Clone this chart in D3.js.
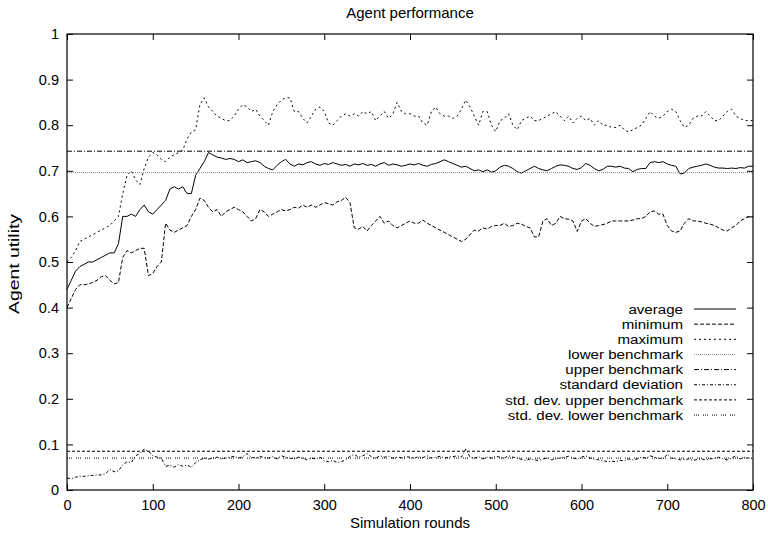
<!DOCTYPE html>
<html><head><meta charset="utf-8">
<script src="https://cdn.jsdelivr.net/npm/d3@7"></script>
<style>body{margin:0;background:#fff}svg text{font-family:"Liberation Sans",Arial,Helvetica,sans-serif;fill:#000}</style>
</head><body><svg id="c" width="768" height="536"></svg>
<script>
const roundStep = 5;
const rounds = d3.range(0, 801, roundStep);
const xTicks = [0,100,200,300,400,500,600,700,800];
const yTicks = [0,0.1,0.2,0.3,0.4,0.5,0.6,0.7,0.8,0.9,1];
const average = [
0.44,0.46,0.48,0.49,0.495,0.50,0.50,0.505,0.51,0.515,
0.52,0.52,0.54,0.60,0.60,0.605,0.60,0.615,0.625,0.61,
0.605,0.615,0.625,0.635,0.66,0.665,0.66,0.665,0.65,0.65,
0.69,0.705,0.72,0.74,0.735,0.73,0.728,0.725,0.727,0.725,
0.72,0.724,0.718,0.72,0.722,0.718,0.71,0.705,0.702,0.712,
0.72,0.725,0.715,0.71,0.715,0.713,0.718,0.72,0.715,0.712,
0.716,0.714,0.718,0.715,0.712,0.714,0.71,0.715,0.713,0.716,
0.712,0.714,0.71,0.715,0.718,0.712,0.715,0.713,0.71,0.712,
0.715,0.713,0.716,0.712,0.71,0.714,0.716,0.72,0.724,0.72,
0.716,0.712,0.708,0.71,0.705,0.70,0.702,0.698,0.702,0.697,
0.70,0.708,0.712,0.71,0.705,0.698,0.695,0.70,0.705,0.71,
0.705,0.702,0.70,0.705,0.71,0.713,0.712,0.71,0.705,0.703,
0.707,0.716,0.712,0.705,0.70,0.703,0.71,0.71,0.708,0.71,
0.706,0.705,0.698,0.703,0.705,0.705,0.718,0.72,0.718,0.72,
0.715,0.712,0.71,0.693,0.695,0.705,0.708,0.71,0.712,0.715,
0.712,0.708,0.706,0.706,0.705,0.706,0.705,0.707,0.706,0.71,
0.71];
const minimum = [
0.40,0.42,0.44,0.45,0.45,0.452,0.455,0.46,0.468,0.47,
0.46,0.452,0.455,0.51,0.525,0.52,0.525,0.53,0.53,0.47,
0.475,0.49,0.50,0.585,0.57,0.565,0.57,0.575,0.58,0.60,
0.615,0.64,0.635,0.62,0.61,0.615,0.60,0.61,0.615,0.62,
0.615,0.61,0.60,0.59,0.595,0.615,0.61,0.60,0.605,0.61,
0.615,0.612,0.615,0.62,0.618,0.625,0.62,0.625,0.62,0.625,
0.63,0.628,0.625,0.632,0.635,0.642,0.63,0.575,0.572,0.578,
0.568,0.58,0.59,0.60,0.585,0.59,0.58,0.575,0.58,0.585,
0.59,0.585,0.585,0.592,0.585,0.58,0.575,0.57,0.565,0.56,
0.555,0.55,0.545,0.55,0.56,0.57,0.568,0.575,0.572,0.578,
0.58,0.58,0.585,0.578,0.58,0.585,0.583,0.578,0.575,0.555,
0.555,0.59,0.595,0.58,0.585,0.60,0.595,0.594,0.59,0.567,
0.59,0.595,0.585,0.578,0.58,0.582,0.585,0.59,0.59,0.59,
0.59,0.59,0.592,0.595,0.595,0.60,0.61,0.612,0.605,0.605,
0.58,0.568,0.565,0.568,0.585,0.595,0.59,0.59,0.588,0.585,
0.583,0.58,0.575,0.57,0.568,0.575,0.58,0.59,0.595,0.60,
0.60];
const maximum = [
0.50,0.51,0.525,0.545,0.55,0.555,0.56,0.565,0.57,0.575,
0.58,0.59,0.60,0.65,0.69,0.70,0.68,0.67,0.705,0.73,
0.74,0.735,0.725,0.72,0.73,0.735,0.74,0.745,0.77,0.785,
0.79,0.845,0.86,0.84,0.83,0.82,0.815,0.81,0.81,0.82,
0.835,0.845,0.84,0.83,0.835,0.82,0.81,0.80,0.83,0.845,
0.855,0.86,0.86,0.83,0.83,0.815,0.805,0.82,0.835,0.84,
0.83,0.805,0.80,0.81,0.82,0.825,0.82,0.825,0.82,0.83,
0.825,0.83,0.81,0.82,0.83,0.815,0.825,0.85,0.83,0.825,
0.825,0.82,0.82,0.805,0.80,0.83,0.84,0.825,0.82,0.82,
0.815,0.82,0.835,0.855,0.84,0.82,0.80,0.83,0.83,0.80,
0.786,0.81,0.815,0.825,0.80,0.79,0.81,0.815,0.82,0.81,
0.81,0.815,0.82,0.825,0.83,0.82,0.81,0.82,0.805,0.815,
0.82,0.81,0.815,0.80,0.81,0.80,0.80,0.795,0.795,0.80,
0.79,0.785,0.79,0.795,0.80,0.815,0.83,0.82,0.815,0.82,
0.83,0.835,0.83,0.81,0.795,0.80,0.815,0.82,0.82,0.83,
0.82,0.81,0.81,0.82,0.83,0.835,0.82,0.815,0.81,0.81,
0.81];
const stdDev = [
0.026,0.025,0.028,0.03,0.03,0.031,0.032,0.033,0.033,0.036,
0.045,0.04,0.042,0.055,0.062,0.06,0.075,0.08,0.09,0.085,
0.075,0.072,0.07,0.052,0.054,0.05,0.056,0.052,0.055,0.05,
0.06,0.066,0.07,0.068,0.07,0.072,0.068,0.07,0.072,0.074,
0.07,0.073,0.08,0.072,0.07,0.074,0.071,0.07,0.073,0.068,
0.075,0.072,0.07,0.068,0.072,0.07,0.066,0.07,0.068,0.072,
0.064,0.062,0.065,0.06,0.062,0.066,0.074,0.078,0.072,0.075,
0.08,0.073,0.07,0.075,0.072,0.074,0.07,0.072,0.071,0.073,
0.072,0.07,0.073,0.071,0.075,0.07,0.072,0.074,0.07,0.072,
0.073,0.075,0.072,0.09,0.072,0.07,0.073,0.068,0.072,0.07,
0.074,0.072,0.07,0.075,0.072,0.07,0.067,0.065,0.068,0.066,
0.065,0.068,0.07,0.066,0.068,0.07,0.072,0.074,0.07,0.068,
0.072,0.075,0.07,0.068,0.066,0.065,0.062,0.063,0.062,0.065,
0.064,0.068,0.066,0.068,0.072,0.07,0.075,0.072,0.07,0.068,
0.078,0.07,0.068,0.066,0.067,0.068,0.065,0.067,0.068,0.066,
0.068,0.07,0.072,0.068,0.066,0.07,0.075,0.068,0.072,0.07,
0.068];
const lowerBenchmark = 0.696;
const upperBenchmark = 0.743;
const stdUpperBenchmark = 0.085;
const stdLowerBenchmark = 0.07;
const legendLabels = ["average","minimum","maximum","lower benchmark","upper benchmark","standard deviation","std. dev. upper benchmark","std. dev. lower benchmark"];

const L=67,R=753,T=34,B=490;
const svg=d3.select("#c");
const x=d3.scaleLinear().domain([0,800]).range([L,R]);
const y=d3.scaleLinear().domain([0,1]).range([B,T]);

const styles=[
 {dash:null,color:"#000"},
 {dash:"4,2",color:"#000"},
 {dash:"2,3",color:"#000"},
 {dash:"1,1",color:"#888"},
 {dash:"5,2,1,2",color:"#000"},
 {dash:"3,2,1,2",color:"#000"},
 {dash:"3,2",color:"#000"},
 {dash:"1,1,1,1,1,4",color:"#000"}
];
const seriesList=[
 {vals:average},{vals:minimum},{vals:maximum},
 {flat:lowerBenchmark},{flat:upperBenchmark},
 {vals:stdDev},{flat:stdUpperBenchmark},{flat:stdLowerBenchmark}
];
const line=d3.line().x(d=>x(d[0])).y(d=>y(d[1]));
const g=svg.append("g");
seriesList.forEach((s,i)=>{
  const pts = s.vals ? rounds.map((r,j)=>[r,s.vals[j]]) : [[0,s.flat],[800,s.flat]];
  g.append("path").attr("d",line(pts)).attr("fill","none")
   .attr("stroke",styles[i].color).attr("stroke-width",1)
   .attr("stroke-dasharray",styles[i].dash);
});

svg.append("rect").attr("x",L).attr("y",T).attr("width",R-L).attr("height",B-T)
  .attr("fill","none").attr("stroke","#000").attr("stroke-width",1.2);
const xb=d3.axisBottom(x).tickValues(xTicks).tickSize(-6).tickPadding(10).tickFormat(d3.format("d"));
const xt=d3.axisTop(x).tickValues(xTicks).tickSize(-6).tickFormat("");
const yl=d3.axisLeft(y).tickValues(yTicks).tickSize(-6).tickPadding(8).tickFormat(d=>d3.format("")(+d.toFixed(1)));
const yr=d3.axisRight(y).tickValues(yTicks).tickSize(-6).tickFormat("");
function styleAxis(sel){sel.select(".domain").remove();sel.selectAll("line").attr("stroke","#000");sel.selectAll("text").attr("font-size",14.5).attr("font-family","Liberation Sans, Arial, sans-serif");}
svg.append("g").attr("transform",`translate(0,${B})`).call(xb).call(styleAxis);
svg.append("g").attr("transform",`translate(0,${T})`).call(xt).call(styleAxis);
svg.append("g").attr("transform",`translate(${L},0)`).call(yl).call(styleAxis);
svg.append("g").attr("transform",`translate(${R},0)`).call(yr).call(styleAxis);

svg.append("text").attr("x",(L+R)/2).attr("y",18).attr("text-anchor","middle").attr("font-size",15).text("Agent performance");
svg.append("text").attr("x",(L+R)/2).attr("y",528).attr("text-anchor","middle").attr("font-size",15).text("Simulation rounds");
svg.append("text").attr("transform",`translate(19,264) rotate(-90)`).attr("text-anchor","middle").attr("font-size",14)
  .attr("textLength",100).attr("lengthAdjust","spacingAndGlyphs").text("Agent utility");

const lg=svg.append("g");
legendLabels.forEach((lab,i)=>{
  const yy=309+i*15.15;
  lg.append("text").attr("transform",`translate(683,${yy}) scale(1.12,1)`).attr("dy","0.35em").attr("text-anchor","end").attr("font-size",13.5).text(lab);
  lg.append("line").attr("x1",694).attr("x2",736).attr("y1",yy).attr("y2",yy)
    .attr("stroke",styles[i].color).attr("stroke-width",1).attr("stroke-dasharray",styles[i].dash);
});
</script></body></html>
